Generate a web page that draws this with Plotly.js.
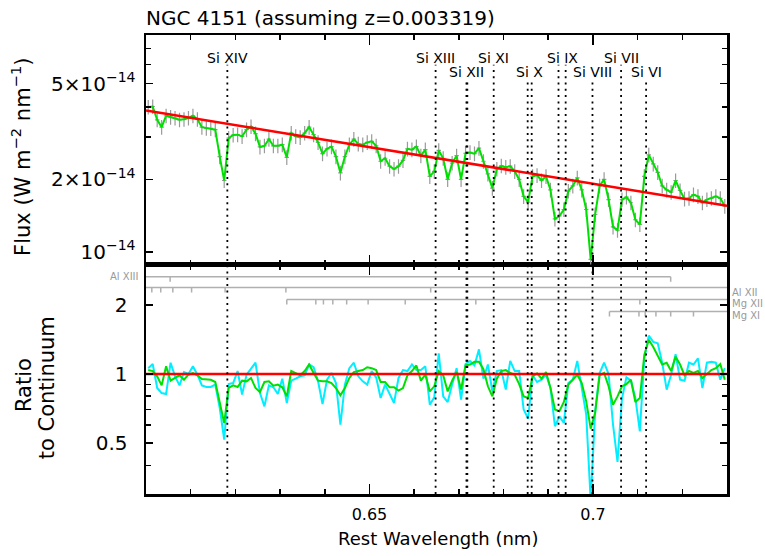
<!DOCTYPE html>
<html><head><meta charset="utf-8">
<script src="https://cdn.plot.ly/plotly-3.0.1.min.js"></script>
<style>html,body{margin:0;padding:0;background:#fff}#chart{width:765px;height:556px}</style>
</head><body><div id="chart"></div>
<script>
// ---------- DATA ----------
const wavelength = [
0.6005,0.6015,0.6025,0.6035,0.6045,0.6055,0.6065,0.6075,0.6085,0.6095,
0.6105,0.6115,0.6125,0.6135,0.6145,0.6155,0.6165,0.6175,0.6185,0.6195,
0.6205,0.6215,0.6225,0.6235,0.6245,0.6255,0.6265,0.6275,0.6285,0.6295,
0.6305,0.6315,0.6325,0.6335,0.6345,0.6355,0.6365,0.6375,0.6385,0.6395,
0.6405,0.6415,0.6425,0.6435,0.6445,0.6455,0.6465,0.6475,0.6485,0.6495,
0.6505,0.6515,0.6525,0.6535,0.6545,0.6555,0.6565,0.6575,0.6585,0.6595,
0.6605,0.6615,0.6625,0.6635,0.6645,0.6655,0.6665,0.6675,0.6685,0.6695,
0.6705,0.6715,0.6725,0.6735,0.6745,0.6755,0.6765,0.6775,0.6785,0.6795,
0.6805,0.6815,0.6825,0.6835,0.6845,0.6855,0.6865,0.6875,0.6885,0.6895,
0.6905,0.6915,0.6925,0.6935,0.6945,0.6955,0.6965,0.6975,0.6985,0.6995,
0.7005,0.7015,0.7025,0.7035,0.7045,0.7055,0.7065,0.7075,0.7085,0.7095,
0.7105,0.7115,0.7125,0.7135,0.7145,0.7155,0.7165,0.7175,0.7185,0.7195,
0.7205,0.7215,0.7225,0.7235,0.7245,0.7255,0.7265,0.7275,0.7285,0.7295];

// flux in units of 1e-14 W m^-2 nm^-1
const flux = [
4.00,4.02,3.54,3.30,3.68,3.63,3.60,3.54,3.56,3.60,
3.68,3.56,3.30,3.27,3.26,3.22,2.49,1.98,2.97,3.06,
3.07,3.02,3.22,3.32,3.10,2.73,2.76,2.94,2.76,2.76,
2.79,2.47,3.12,3.02,2.99,3.12,3.30,3.07,2.85,2.56,
2.68,2.74,2.49,2.13,2.49,2.79,2.94,2.81,2.79,2.85,
2.88,2.76,2.38,2.45,2.27,2.21,2.27,2.40,2.68,2.66,
2.74,2.51,2.66,2.06,2.16,2.64,2.45,2.00,2.34,2.51,
2.00,2.57,2.59,2.56,2.70,2.38,2.11,1.84,2.21,2.28,
2.25,2.27,2.16,2.00,1.70,1.61,2.06,2.08,1.98,2.06,
1.81,1.37,1.41,1.50,1.79,1.88,2.03,1.81,1.50,0.93,
1.43,1.88,2.00,1.65,1.27,1.23,1.65,1.69,1.60,1.36,
1.30,2.06,2.53,2.32,2.14,1.88,1.81,1.77,1.98,1.80,
1.66,1.67,1.73,1.70,1.60,1.65,1.67,1.70,1.67,1.55];
const fluxErrPercent = 7;

const continuumWave = [0.600, 0.730];
const continuumFlux = [3.87, 1.556];

const ratioBinned = [
1.04,1.03,0.977,0.892,1.08,0.935,0.961,0.987,0.944,0.993,
1.01,0.987,0.951,0.951,0.944,0.923,0.760,0.612,0.869,0.892,
0.878,0.935,0.929,0.961,0.869,0.835,0.923,0.929,0.889,0.899,
0.875,0.799,1.03,1.01,0.987,1.03,1.10,1.01,0.935,0.929,
0.929,0.913,0.869,0.807,0.869,0.961,1.02,1.03,1.04,1.07,
1.06,1.04,0.923,0.923,0.875,0.875,0.846,0.869,0.987,1.03,
1.09,0.935,0.993,0.840,0.884,1.03,0.987,0.840,0.935,1.02,
0.855,1.09,1.10,1.13,1.13,1.05,0.884,0.799,0.954,1.03,
1.04,1.01,0.993,0.904,0.799,0.786,0.977,1.006,0.954,1.02,
0.869,0.700,0.688,0.755,0.899,0.944,0.993,0.913,0.760,0.578,
0.677,0.987,1.01,0.884,0.735,0.799,0.884,0.904,0.944,0.755,
0.786,1.21,1.41,1.31,1.19,1.10,1.12,1.03,1.19,1.10,
0.987,1.03,1.01,1.03,0.961,1.00,1.04,1.06,1.105,0.944];

const ratioFine = [
1.06,1.105,0.869,0.826,0.818,1.12,0.977,0.892,1.02,1.00,
1.08,0.993,0.892,0.878,0.878,0.899,0.711,0.518,0.904,0.913,
1.03,0.813,0.993,1.06,1.12,0.826,0.723,0.892,0.875,0.818,
0.954,0.748,0.935,0.954,0.977,0.987,1.10,1.07,0.929,0.740,
0.944,1.01,0.913,0.602,0.899,1.06,1.12,0.977,0.929,0.899,
1.03,0.967,0.786,0.899,0.813,0.748,0.961,1.04,1.03,1.10,
1.04,1.04,1.08,0.735,0.791,1.23,0.799,0.755,0.899,1.06,
0.773,1.105,1.14,1.09,1.28,0.954,1.10,0.840,1.03,1.04,
0.855,1.14,1.03,1.03,0.700,0.639,0.987,0.923,0.944,0.993,
0.869,0.592,0.654,0.612,0.913,0.944,1.14,0.869,0.665,0.28,
0.688,1.01,1.12,1.00,0.602,0.414,0.781,0.967,0.935,0.786,
0.563,1.17,1.47,1.38,1.36,1.12,0.855,0.993,1.22,0.944,
0.935,1.12,1.10,1.17,0.869,1.12,1.13,1.12,0.944,1.06];

const unityWave = [0.600, 0.730];
const unityRatio = [1, 1];

const lineNames = ['Si XIV','Si XIII','Si XII','Si XI','Si X','Si IX','Si VIII','Si VII','Si VI'];
const lineWaves = [[0.6182],[0.6648],[0.6717,0.6719],[0.6778],[0.6854,0.6863],[0.6923,0.6939],[0.6999],[0.7063],[0.7119]];

const ladderNames = ['Al XIII','Al XII','Mg XII','Mg XI'];
const alXIII = [0.6054, 0.7174];
const alXII = [0.6013,0.6033,0.6060,0.6102,0.6177,0.6313,0.6637];
const mgXII = [0.6315,0.6380,0.6397,0.6418,0.6449,0.6497,0.6580,0.6738,0.7105];
const mgXI = [0.7037,0.7103,0.7117,0.7141,0.7174,0.7225];

const xTickVals = [0.65, 0.7];
const xTickText = ['0.65', '0.7'];
const fluxTickVals = [1, 2, 5];
const fluxTickText = ['10<sup>\u221214</sup>', '2\u00d710<sup>\u221214</sup>', '5\u00d710<sup>\u221214</sup>'];
const ratioTickVals = [0.5, 1, 2];
const ratioTickText = ['0.5', '1', '2'];

// ---------- STYLE / LAYOUT ----------
const FONT = 'DejaVu Sans, Verdana, sans-serif';
const GREEN = '#00e000', CYAN = '#00eeff', RED = '#ff0000', GREY = '#b0b0b0';
const labelRow = [1,1,2,1,2,1,2,1,2];
const ladderStyle = [
  {waves: alXIII, level: 2.65, left: 0.59, right: null, side: 'left', ly: 0.473},
  {waves: alXII, level: 2.38, left: 0.59, right: 0.74, side: 'right', ly: 0.439},
  {waves: mgXII, level: 2.11, left: null, right: 0.74, side: 'right', ly: 0.414},
  {waves: mgXI, level: 1.87, left: null, right: 0.74, side: 'right', ly: 0.389}
];

const traces = [];
traces.push({x: wavelength, y: flux, xaxis: 'x2', yaxis: 'y2', type: 'scatter', mode: 'markers',
  marker: {size: 1, color: 'rgba(0,0,0,0)'}, hoverinfo: 'skip',
  error_y: {type: 'percent', value: fluxErrPercent, color: '#9a9a9a', thickness: 1.2, width: 0},
  error_x: {type: 'constant', value: 0.0005, color: '#9a9a9a', thickness: 1.2, width: 0}});
traces.push({x: wavelength, y: flux, xaxis: 'x2', yaxis: 'y2', type: 'scatter', mode: 'lines',
  line: {color: GREEN, width: 2}});
traces.push({x: continuumWave, y: continuumFlux, xaxis: 'x2', yaxis: 'y2', type: 'scatter', mode: 'lines',
  line: {color: RED, width: 2.5}});

ladderStyle.forEach((s, k) => {
  const xs = [], ys = [];
  const lo = s.left !== null ? s.left : Math.min(...s.waves);
  const hi = s.right !== null ? s.right : Math.max(...s.waves);
  xs.push(lo, hi, null); ys.push(s.level, s.level, null);
  s.waves.forEach(w => { xs.push(w, w, null); ys.push(s.level, s.level * 0.952, null); });
  traces.push({x: xs, y: ys, xaxis: 'x', yaxis: 'y', type: 'scatter', mode: 'lines',
    line: {color: GREY, width: 1.5}, hoverinfo: 'skip'});
});

traces.push({x: wavelength, y: ratioFine, xaxis: 'x', yaxis: 'y', type: 'scatter', mode: 'lines',
  line: {color: CYAN, width: 2}});
traces.push({x: wavelength, y: ratioBinned, xaxis: 'x', yaxis: 'y', type: 'scatter', mode: 'lines',
  line: {color: GREEN, width: 2}});
traces.push({x: unityWave, y: unityRatio, xaxis: 'x', yaxis: 'y', type: 'scatter', mode: 'lines',
  line: {color: RED, width: 2.5}});

const shapes = [], annotations = [];
lineNames.forEach((name, i) => {
  const top = labelRow[i] === 1 ? 0.935 : 0.898;
  lineWaves[i].forEach(w => {
    shapes.push({type: 'line', xref: 'x', yref: 'paper', x0: w, x1: w, y0: 0, y1: top,
      line: {color: '#000', width: 1.8, dash: '2px,4.3px'}});
  });
  const xm = lineWaves[i].reduce((a, b) => a + b, 0) / lineWaves[i].length;
  annotations.push({xref: 'x', yref: 'paper', x: xm, y: labelRow[i] === 1 ? 0.950 : 0.920,
    text: name, showarrow: false, xanchor: 'center', yanchor: 'middle',
    font: {family: FONT, size: 14, color: '#000'}});
});
ladderStyle.forEach((s, k) => {
  annotations.push({xref: 'paper', yref: 'paper', x: s.side === 'left' ? -0.008 : 1.006, y: s.ly,
    xanchor: s.side === 'left' ? 'right' : 'left', yanchor: 'middle', showarrow: false,
    text: ladderNames[k], font: {family: FONT, size: 10, color: '#999'}});
});
annotations.push({xref: 'paper', yref: 'paper', x: (21 - 146) / 581, y: (494.3 - 157) / 459.3,
  textangle: -90, showarrow: false, xanchor: 'center', yanchor: 'middle',
  text: 'Flux (W m<sup>\u22122</sup> nm<sup>\u22121</sup>)', font: {family: FONT, size: 21, color: '#000'}});
annotations.push({xref: 'paper', yref: 'paper', x: (23.3 - 146) / 581, y: (494.3 - 385) / 459.3,
  textangle: -90, showarrow: false, xanchor: 'center', yanchor: 'middle',
  text: 'Ratio', font: {family: FONT, size: 21, color: '#000'}});
annotations.push({xref: 'paper', yref: 'paper', x: (46.5 - 146) / 581, y: (494.3 - 388) / 459.3,
  textangle: -90, showarrow: false, xanchor: 'center', yanchor: 'middle',
  text: 'to Continuum', font: {family: FONT, size: 21, color: '#000'}});
annotations.push({xref: 'paper', yref: 'paper', x: (437.5 - 146) / 581, y: (494.3 - 539) / 459.3,
  showarrow: false, xanchor: 'center', yanchor: 'middle',
  text: 'Rest Wavelength (nm)', font: {family: FONT, size: 18, color: '#000'}});

const xCommon = {
  range: [0.600, 0.730], showgrid: false, zeroline: false,
  showline: true, linecolor: '#000', linewidth: 2.5, mirror: 'ticks',
  ticks: 'inside', ticklen: 10, tickwidth: 1.5, tickcolor: '#000',
  tickmode: 'array', tickvals: xTickVals, ticktext: xTickText,
  minor: {tickmode: 'linear', tick0: 0.6, dtick: 0.01, ticks: 'inside', ticklen: 5, tickwidth: 1.5, tickcolor: '#000', showgrid: false}
};
const layout = {
  width: 765, height: 556,
  margin: {l: 146, r: 38, t: 35, b: 62, pad: 0},
  paper_bgcolor: '#fff', plot_bgcolor: '#fff', showlegend: false,
  font: {family: FONT, color: '#000'},
  title: {text: 'NGC 4151 (assuming z=0.003319)', font: {family: FONT, size: 20, color: '#000'},
    x: 146 / 765, xanchor: 'left', xref: 'container', y: 1 - 17.5 / 556, yanchor: 'middle', yref: 'container'},
  xaxis: Object.assign({}, xCommon, {anchor: 'y', domain: [0, 1], tickfont: {family: FONT, size: 16}, ticklabelstandoff: 4}),
  xaxis2: Object.assign({}, xCommon, {anchor: 'y2', domain: [0, 1], matches: 'x', showticklabels: false}),
  yaxis: {domain: [0, 0.5], type: 'log', range: [Math.log10(0.3), Math.log10(3)], anchor: 'x',
    showgrid: false, zeroline: false, showline: true, linecolor: '#000', linewidth: 2.5, mirror: 'ticks',
    ticks: 'inside', ticklen: 7, tickwidth: 1.5, tickcolor: '#000',
    tickmode: 'array', tickvals: ratioTickVals, ticktext: ratioTickText,
    tickfont: {family: FONT, size: 20}, ticklabelstandoff: 12,
    minor: {tickmode: 'array', tickvals: [0.3, 0.4, 0.6, 0.7, 0.8, 0.9, 3], ticks: 'inside', ticklen: 5, tickwidth: 1.5, tickcolor: '#000', showgrid: false}},
  yaxis2: {domain: [0.5, 1], type: 'log', range: [Math.log10(0.886), Math.log10(7.97)], anchor: 'x2',
    showgrid: false, zeroline: false, showline: true, linecolor: '#000', linewidth: 2.5, mirror: 'ticks',
    ticks: 'inside', ticklen: 7, tickwidth: 1.5, tickcolor: '#000',
    tickmode: 'array', tickvals: fluxTickVals, ticktext: fluxTickText,
    tickfont: {family: FONT, size: 20}, ticklabelstandoff: 4,
    minor: {tickmode: 'array', tickvals: [0.9, 3, 4, 6, 7], ticks: 'inside', ticklen: 5, tickwidth: 1.5, tickcolor: '#000', showgrid: false}},
  shapes: shapes,
  annotations: annotations
};
Plotly.newPlot('chart', traces, layout, {staticPlot: true, displayModeBar: false});
</script></body></html>
